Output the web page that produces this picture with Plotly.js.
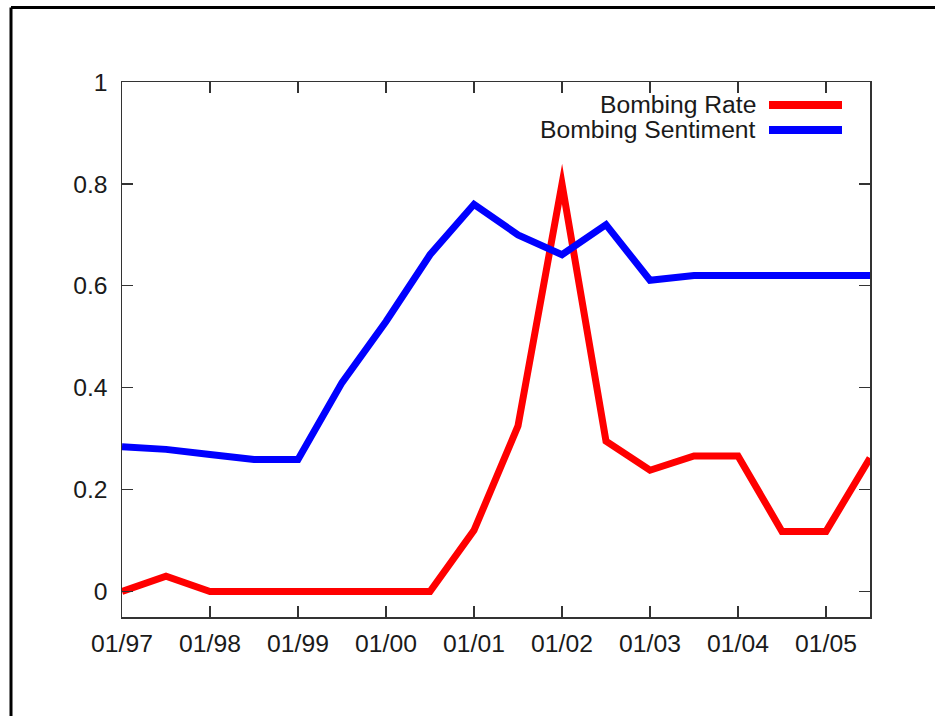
<!DOCTYPE html>
<html>
<head>
<meta charset="utf-8">
<script src="https://cdn.plot.ly/plotly-3.0.1.min.js"></script>
<style>
  html, body { margin: 0; padding: 0; background: #fff; }
  #chart { width: 935px; height: 716px; }
  /* sharp gnuplot-style corners on the data lines */
  .scatterlayer path.js-line { stroke-linejoin: miter; stroke-miterlimit: 12; }
</style>
</head>
<body>
<div id="chart"></div>
<script>
// half-year sample points, 01/97 .. 07/05
const periods = [1997, 1997.5, 1998, 1998.5, 1999, 1999.5, 2000, 2000.5, 2001,
                 2001.5, 2002, 2002.5, 2003, 2003.5, 2004, 2004.5, 2005, 2005.5];
const bombingRate = [0, 0.03, 0, 0, 0, 0, 0, 0, 0.12,
                     0.325, 0.80, 0.295, 0.238, 0.266, 0.266, 0.118, 0.118, 0.262];
const bombingSentiment = [0.284, 0.279, 0.269, 0.259, 0.259, 0.41, 0.53, 0.661, 0.76,
                          0.70, 0.661, 0.72, 0.611, 0.62, 0.62, 0.62, 0.62, 0.62];

const tickVals = [1997, 1998, 1999, 2000, 2001, 2002, 2003, 2004, 2005];
const tickText = ['01/97', '01/98', '01/99', '01/00', '01/01', '01/02', '01/03', '01/04', '01/05'];

const seriesNames = ['Bombing Rate', 'Bombing Sentiment'];
const seriesColors = ['#ff0000', '#0000ff'];

const FONT = 'Liberation Sans, Arial, Helvetica, sans-serif';
const FONT_SIZE = 24.7;
const AXIS_COLOR = '#333333';
const LINE_W = 7;

// px-derived plot box
const W = 935, H = 716;
const M = { l: 122, r: 65, t: 82, b: 99 };
const pw = W - M.l - M.r, ph = H - M.t - M.b;
const px = x => (x - M.l) / pw;
const py = y => 1 - (y - M.t) / ph;

const traces = [
  { x: periods, y: bombingRate, name: seriesNames[0], type: 'scatter', mode: 'lines',
    line: { color: seriesColors[0], width: LINE_W }, cliponaxis: true },
  { x: periods, y: bombingSentiment, name: seriesNames[1], type: 'scatter', mode: 'lines',
    line: { color: seriesColors[1], width: LINE_W }, cliponaxis: true }
];

// key drawn on the right side: label then line sample
const keyRows = [105, 130];
const annotations = seriesNames.map((n, i) => ({
  text: n, xref: 'paper', yref: 'paper', x: px(758), y: py(keyRows[i]),
  xanchor: 'right', yanchor: 'middle', showarrow: false,
  font: { family: FONT, size: FONT_SIZE, color: '#1a1a1a' }
}));
const shapes = seriesNames.map((n, i) => ({
  type: 'line', xref: 'paper', yref: 'paper',
  x0: px(769), x1: px(842), y0: py(keyRows[i]), y1: py(keyRows[i]),
  line: { color: seriesColors[i], width: 8 }
}));
// page frame (top and left edges)
shapes.push({ type: 'line', xref: 'paper', yref: 'paper',
  x0: px(11), x1: px(940), y0: py(7.5), y1: py(7.5), line: { color: '#000', width: 3 } });
shapes.push({ type: 'line', xref: 'paper', yref: 'paper',
  x0: px(11), x1: px(11), y0: py(7.5), y1: py(730), line: { color: '#000', width: 3 } });

const axisCommon = {
  showline: true, linecolor: AXIS_COLOR, linewidth: 1.5, mirror: 'ticks',
  ticks: 'inside', ticklen: 11, tickwidth: 1.3, tickcolor: AXIS_COLOR,
  showgrid: false, zeroline: false,
  tickfont: { family: FONT, size: FONT_SIZE, color: '#1a1a1a' }
};

const layout = {
  width: W, height: H,
  margin: M,
  paper_bgcolor: '#ffffff', plot_bgcolor: '#ffffff',
  showlegend: false,
  xaxis: Object.assign({}, axisCommon, {
    range: [1997, 2005.5], tickmode: 'array', tickvals: tickVals, ticktext: tickText,
    ticklabelstandoff: 4
  }),
  yaxis: Object.assign({}, axisCommon, {
    range: [-0.05, 1], tickmode: 'linear', tick0: 0, dtick: 0.2,
    ticklabelstandoff: 8
  }),
  annotations: annotations,
  shapes: shapes
};

Plotly.newPlot('chart', traces, layout, { staticPlot: true, displayModeBar: false });
</script>
</body>
</html>
